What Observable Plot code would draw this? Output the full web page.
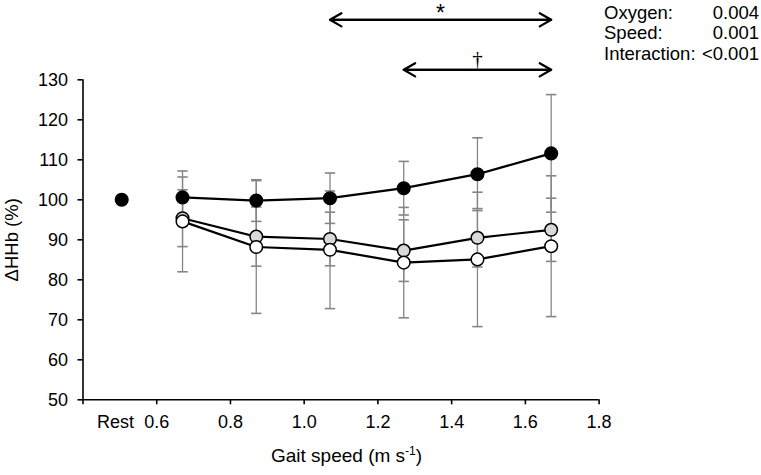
<!DOCTYPE html>
<html>
<head>
<meta charset="utf-8">
<script src="https://cdn.jsdelivr.net/npm/d3@7"></script>
<script src="https://cdn.jsdelivr.net/npm/@observablehq/plot@0.6"></script>
<style>
  html, body { margin: 0; padding: 0; background: #fff; }
  #chart { position: relative; width: 761px; height: 475px; }
</style>
</head>
<body>
<div id="chart"></div>
<script>
// ---- data ----
const xSpeed = [0.67, 0.87, 1.07, 1.27, 1.47, 1.67];
const blackMean = [100.6, 99.8, 100.4, 102.9, 106.4, 111.6];
const blackSD   = [5.1, 5.2, 6.3, 6.7, 9.1, 14.7];
const greyMean  = [95.4, 90.8, 90.2, 87.3, 90.5, 92.5];
const greySD    = [7.1, 7.4, 6.7, 7.7, 7.3, 7.9];
const whiteMean = [94.6, 88.2, 87.5, 84.3, 85.1, 88.4];
const whiteSD   = [12.6, 16.6, 14.7, 13.8, 16.8, 17.6];
const restX = [0.505];
const restY = [100];
const restLabel = "Rest";
const restLabelX = 0.488;
const xTicks = [0.4, 0.6, 0.8, 1.0, 1.2, 1.4, 1.6, 1.8];
const yTicks = [50, 60, 70, 80, 90, 100, 110, 120, 130];
const sigStart = [1.07, 1.27];
const sigEnd   = [1.67, 1.67];
const sigY     = [145, 132.5];
const sigMark  = ["*", "\u2020"];
const statNames  = ["Oxygen:", "Speed:", "Interaction:"];
const statValues = ["0.004", "0.001", "<0.001"];
const yTitle = "\u0394HHb (%)";

const FONT = "'Liberation Sans', Arial, Helvetica, sans-serif";

const seriesDefs = [
  {key: "grey", mean: greyMean, sd: greySD, fill: "#d9d9d9"},
  {key: "white", mean: whiteMean, sd: whiteSD, fill: "#ffffff"},
  {key: "black", mean: blackMean, sd: blackSD, fill: "#000000"}
];
const rows = [];
seriesDefs.forEach(s => s.mean.forEach((m, i) => rows.push({
  series: s.key, x: xSpeed[i], y: m, lo: m - s.sd[i], hi: m + s.sd[i]
})));
const sig = sigStart.map((s, i) => ({a: s, b: sigEnd[i], y: sigY[i], m: sigMark[i], mid: (s + sigEnd[i]) / 2}));

const capSymbol = {
  draw(ctx, size) {
    const r = Math.sqrt(size / Math.PI);
    ctx.moveTo(-r, 0);
    ctx.lineTo(r, 0);
  }
};

const errColor = "#868686";

const marks = [
  Plot.ruleX([0.4], {stroke: "#000", strokeWidth: 1.6}),
  Plot.ruleY([50], {stroke: "#000", strokeWidth: 1.6}),
  Plot.axisY({ticks: yTicks, tickSize: 5, tickPadding: 10, label: null, fontSize: 18, stroke: "#000", strokeWidth: 1.6}),
  Plot.axisX({ticks: xTicks, tickSize: 5, tickPadding: 10, label: null, fontSize: 18, stroke: "#000", strokeWidth: 1.6,
    tickFormat: d => (Math.abs(d - 0.4) < 1e-9 ? "" : d.toFixed(1))}),
  Plot.text([restLabel], {x: restLabelX, y: 50, dy: 15, lineAnchor: "top", fontSize: 18}),
  Plot.ruleX(rows, {x: "x", y1: "lo", y2: "hi", stroke: errColor, strokeWidth: 1.3}),
  Plot.dot(rows, {x: "x", y: "lo", symbol: capSymbol, r: 5.2, stroke: errColor, strokeWidth: 1.6, fill: "none"}),
  Plot.dot(rows, {x: "x", y: "hi", symbol: capSymbol, r: 5.2, stroke: errColor, strokeWidth: 1.6, fill: "none"}),
];
seriesDefs.forEach(s => {
  marks.push(Plot.line(rows.filter(d => d.series === s.key), {x: "x", y: "y", stroke: "#000", strokeWidth: 2.2}));
});
seriesDefs.forEach(s => {
  marks.push(Plot.dot(rows.filter(d => d.series === s.key), {x: "x", y: "y", r: 6.3, fill: s.fill, stroke: "#000", strokeWidth: 1.5}));
});
marks.push(Plot.dot(restX.map((x, i) => ({x, y: restY[i]})), {x: "x", y: "y", r: 6.3, fill: "#000", stroke: "#000", strokeWidth: 1.5}));
marks.push(Plot.arrow(sig, {x1: "a", x2: "b", y1: "y", y2: "y", stroke: "#000", strokeWidth: 2.2, headLength: 9, headAngle: 60}));
marks.push(Plot.arrow(sig, {x1: "b", x2: "a", y1: "y", y2: "y", stroke: "#000", strokeWidth: 2.2, headLength: 9, headAngle: 60}));
marks.push(Plot.text(sig.slice(0, 1), {x: "mid", y: "y", text: "m", dy: 1, lineAnchor: "bottom", fontSize: 23}));
marks.push(Plot.text(sig.slice(1), {x: "mid", y: "y", text: "m", dy: -4, lineAnchor: "bottom", fontSize: 21, fontFamily: "'Liberation Serif', 'Times New Roman', serif"}));
marks.push(Plot.text([yTitle], {frameAnchor: "left", rotate: -90, dx: -71, textAnchor: "middle", lineAnchor: "middle", fontSize: 18.5}));

const plot = Plot.plot({
  width: 761,
  height: 475,
  marginLeft: 82.5,
  marginRight: 162.4,
  marginTop: 79.3,
  marginBottom: 75.7,
  style: {fontFamily: FONT, fontSize: "18px", color: "#000", background: "#fff", overflow: "visible"},
  x: {domain: [0.4, 1.8]},
  y: {domain: [50, 130]},
  marks
});

document.getElementById("chart").appendChild(plot);

const svg = d3.select(plot);
const xs = plot.scale("x");
const xMid = (xs.range[0] + xs.range[1]) / 2;
const xt = svg.append("text")
  .attr("x", xMid + 6).attr("y", 462)
  .attr("text-anchor", "middle")
  .attr("font-family", FONT).attr("font-size", 19).attr("fill", "#000");
xt.append("tspan").text("Gait speed (m s");
xt.append("tspan").attr("font-size", 12).attr("dy", -7).text("-1");
xt.append("tspan").attr("dy", 7).text(")");

const statBaselines = [18.5, 39, 60];
statNames.forEach((n, i) => {
  svg.append("text").attr("x", 604).attr("y", statBaselines[i]).attr("text-anchor", "start")
    .attr("font-family", FONT).attr("font-size", 18.5).attr("fill", "#000").text(n);
  svg.append("text").attr("x", 759).attr("y", statBaselines[i]).attr("text-anchor", "end")
    .attr("font-family", FONT).attr("font-size", 18.5).attr("fill", "#000").text(statValues[i]);
});
</script>
</body>
</html>
